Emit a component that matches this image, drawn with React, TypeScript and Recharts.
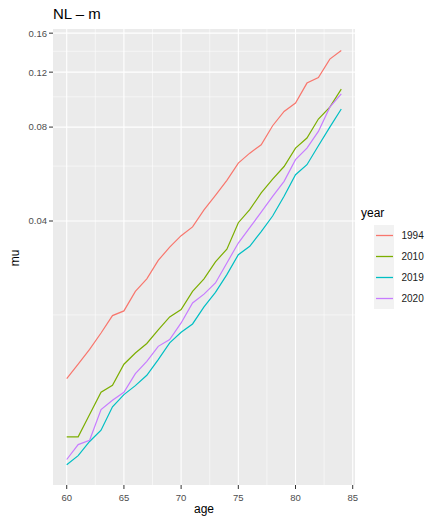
import { LineChart, Line, XAxis, YAxis, CartesianGrid, Legend } from "recharts";

const FONT = '"Liberation Sans", Arial, Helvetica, sans-serif';

const ages = [60, 61, 62, 63, 64, 65, 66, 67, 68, 69, 70, 71, 72, 73, 74, 75, 76, 77, 78, 79, 80, 81, 82, 83, 84];

const mu1994 = [0.0125, 0.0139, 0.0155, 0.0175, 0.0199, 0.0206, 0.0238, 0.0261, 0.0299, 0.033, 0.0359, 0.0383, 0.0434, 0.0483, 0.054, 0.0613, 0.066, 0.0702, 0.0808, 0.0898, 0.0955, 0.1107, 0.1153, 0.1321, 0.1407];
const mu2010 = [0.00813, 0.00813, 0.00959, 0.0113, 0.0119, 0.0139, 0.0151, 0.0162, 0.0179, 0.0197, 0.0208, 0.0238, 0.0261, 0.0296, 0.0325, 0.0395, 0.0435, 0.0492, 0.0545, 0.0598, 0.0685, 0.0738, 0.0849, 0.0927, 0.1059];
const mu2019 = [0.00662, 0.00708, 0.00786, 0.00854, 0.01015, 0.01111, 0.01187, 0.01281, 0.01438, 0.01627, 0.01759, 0.01871, 0.02122, 0.02363, 0.02692, 0.0312, 0.0332, 0.037, 0.0415, 0.048, 0.0563, 0.0606, 0.0697, 0.08, 0.0914];
const mu2020 = [0.00688, 0.00768, 0.00793, 0.00995, 0.01065, 0.0113, 0.01297, 0.0142, 0.01586, 0.01667, 0.01885, 0.02185, 0.02331, 0.02532, 0.02935, 0.034, 0.0381, 0.0427, 0.048, 0.0536, 0.0629, 0.0685, 0.0775, 0.0927, 0.1023];

const ageTicks = [60, 65, 70, 75, 80, 85];
const ageMinor = [62.5, 67.5, 72.5, 77.5, 82.5];
const muTicks = [0.04, 0.08, 0.12, 0.16];
const muMinor = [0.02, 0.06, 0.1, 0.14];

const series = [
  { key: "y1994", name: "1994", color: "#F8766D", values: mu1994 },
  { key: "y2010", name: "2010", color: "#7CAE00", values: mu2010 },
  { key: "y2019", name: "2019", color: "#00BFC4", values: mu2019 },
  { key: "y2020", name: "2020", color: "#C77CFF", values: mu2020 },
];

const data = ages.map((age, i) => {
  const row: any = { age };
  series.forEach((s) => {
    row[s.key] = s.values[i];
  });
  return row;
});

// ggplot-style legend: title above a grey key column
const renderLegend = (props: any) => {
  const { payload } = props;
  return (
    <div style={{ fontFamily: FONT, color: "#000" }}>
      <div style={{ fontSize: 12, lineHeight: "12px", height: 18 }}>year</div>
      {payload.map((entry: any) => (
        <div key={entry.value} style={{ display: "flex", alignItems: "center", height: 21 }}>
          <div style={{ width: 13 }} />
          <svg width={20} height={21} style={{ display: "block", background: "#F2F2F2" }}>
            <line x1={2} x2={19} y1={10.5} y2={10.5} stroke={entry.color} strokeWidth={1.3} />
          </svg>
          <div style={{ marginLeft: 7.5, fontSize: 10, lineHeight: "10px", color: "#1A1A1A" }}>{entry.value}</div>
        </div>
      ))}
    </div>
  );
};

const App = () => {
  return (
    <div style={{ position: "absolute", left: 0, top: 0, width: 429, height: 518, background: "#fff" }}>
      <div
        style={{
          position: "absolute",
          left: 53,
          top: 6,
          fontFamily: FONT,
          fontSize: 15,
          lineHeight: "15px",
          color: "#000",
          whiteSpace: "nowrap",
        }}
      >
        NL – m
      </div>
      <LineChart
        width={429}
        height={518}
        data={data}
        margin={{ top: 29, right: 74, bottom: 0, left: 0 }}
        style={{ fontFamily: FONT }}
      >
        <CartesianGrid
          fill="#EBEBEB"
          stroke="#FFFFFF"
          strokeWidth={0.55}
          horizontalValues={muMinor}
          verticalValues={ageMinor}
        />
        <CartesianGrid
          stroke="#FFFFFF"
          strokeWidth={1.1}
          horizontalValues={muTicks}
          verticalValues={ageTicks}
        />
        <XAxis
          type="number"
          dataKey="age"
          domain={[58.8, 85.2]}
          ticks={ageTicks}
          allowDataOverflow
          height={33}
          axisLine={false}
          tickSize={4}
          tickMargin={5}
          tickLine={{ stroke: "#333333" }}
          tick={{ fill: "#4D4D4D", fontSize: 9.5 }}
          label={(p: any) => {
            const vb = p.viewBox;
            return (
              <text x={vb.x + vb.width / 2} y={513.3} textAnchor="middle" fontSize={12} fill="#000">
                age
              </text>
            );
          }}
        />
        <YAxis
          type="number"
          scale="log"
          domain={[0.0057, 0.165]}
          ticks={muTicks}
          allowDataOverflow
          width={53}
          axisLine={false}
          tickSize={4}
          tickMargin={2}
          tickLine={{ stroke: "#333333" }}
          tick={{ fill: "#4D4D4D", fontSize: 9.5 }}
          tickFormatter={(v: number) => v.toFixed(2)}
          label={(p: any) => {
            const vb = p.viewBox;
            const cy = vb.y + vb.height / 2 + 1;
            return (
              <text x={19} y={cy} transform={`rotate(-90, 19, ${cy})`} textAnchor="middle" fontSize={12} fill="#000">
                mu
              </text>
            );
          }}
        />
        <Legend
          layout="vertical"
          align="center"
          verticalAlign="middle"
          content={renderLegend}
          wrapperStyle={{ left: 361, top: 207, width: 68 }}
        />
        {series.map((s) => (
          <Line
            key={s.key}
            type="linear"
            dataKey={s.key}
            name={s.name}
            stroke={s.color}
            strokeWidth={1.2}
            dot={false}
            activeDot={false}
            isAnimationActive={false}
          />
        ))}
      </LineChart>
    </div>
  );
};

export default App;
